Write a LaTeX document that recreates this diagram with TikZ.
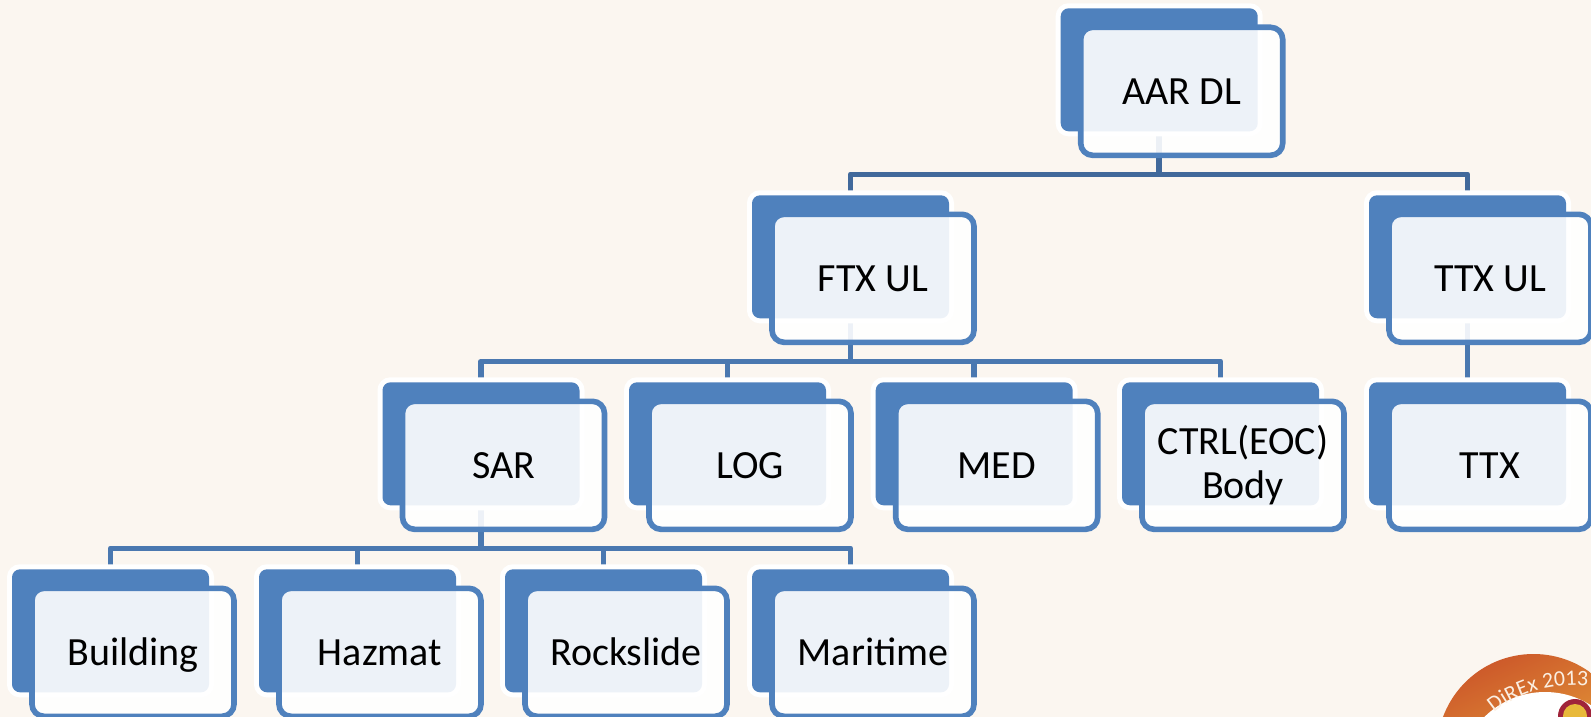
\documentclass[tikz,border=0pt]{standalone}
\usepackage{fontspec}
\setmainfont{Carlito}
\usetikzlibrary{decorations.text}
\pgfdeclarelayer{under}
\pgfsetlayers{under,main}
\definecolor{pagebg}{HTML}{FBF6F0}
\definecolor{cardblue}{HTML}{4F81BD}
\definecolor{busdark}{HTML}{41699B}
\definecolor{busmid}{HTML}{4A78B0}
\definecolor{ringtop}{HTML}{C94F28}
\definecolor{ringlow}{HTML}{DB8233}
\definecolor{sealred}{HTML}{A0243A}
\definecolor{sealgold}{HTML}{E8B93A}
\definecolor{ringtext}{HTML}{FBEFE2}
\tikzset{
  x=1pt,y=-1pt,
  backcard/.style={anchor=north west,minimum width=197pt,minimum height=123pt,inner sep=0pt,outer sep=0pt,
    rounded corners=8pt,fill=cardblue,preaction={draw=white,line width=10pt}},
  frontcard/.style={anchor=north west,minimum width=202pt,minimum height=128pt,inner sep=0pt,outer sep=0pt,
    rounded corners=12pt,draw=cardblue,line width=5.6pt,fill=white,fill opacity=.9,text opacity=1,draw opacity=1,
    align=center,font=\fontsize{40}{44}\selectfont,text=black},
  bus/.style={draw=busmid,line width=5.6pt,line join=round},
  busd/.style={draw=busdark,line width=5.6pt,line join=round}
}
\newcommand{\card}[4]{%
  \node[backcard] (#1) at (#2,#3) {};
  \node[frontcard] (#1f) at (#2+20,#3+19) {#4};
}
\newcommand{\oneline}[1]{\raisebox{0pt}[26pt][0pt]{#1}}
\begin{document}
\begin{tikzpicture}
\useasboundingbox (0,0) rectangle (1591,717);
\begin{pgfonlayer}{under}
\fill[pagebg] (0,0) rectangle (1591,717);
\end{pgfonlayer}
% emblem
\begin{scope}
\clip (0,0) rectangle (1591,717);
\begin{scope}
\clip (1533.5,750.5) circle (96.5);
\shade[top color=ringtop,bottom color=ringlow,shading angle=25] (1430,650) rectangle (1591,717);
\fill[white] (1545,778) circle (86);
\end{scope}
\fill[sealred] (1575,716) circle (17);
\fill[sealgold] (1575,716) circle (12);
\path[decorate,decoration={text along path,text align={left},
   text={|\fontsize{22}{22}\selectfont\color{ringtext}|DiREx 2013}}]
   (1494,713) .. controls (1515,695) and (1545,683) .. (1591,686);
\end{scope}
% cards
\card{aar}{1060.7}{8.3}{\oneline{AAR DL}}
\card{ftx}{752}{195.3}{\oneline{FTX UL}}
\card{ttxul}{1369}{195.3}{\oneline{TTX UL}}
\card{sar}{382.5}{382.3}{\oneline{SAR}}
\card{log}{629}{382.3}{\oneline{LOG}}
\card{med}{875.7}{382.3}{\oneline{MED}}
\card{ctrl}{1122}{382.3}{CTRL(EOC)\\Body}
\card{ttx}{1369}{382.3}{\oneline{TTX}}
\card{bld}{12}{569.3}{\oneline{Building}}
\card{haz}{259}{569.3}{\oneline{Hazmat}}
\card{roc}{505}{569.3}{\oneline{Rockslide}}
\card{mar}{752}{569.3}{\oneline{Maritime}}
% connectors
\begin{pgfonlayer}{under}
\draw[busd] (aar.south) -- ++(0,43) -| (ftx.north);
\draw[busd] (aar.south) -- ++(0,43) -| (ttxul.north);
\draw[bus] (ttxul.south) -- (ttx.north);
\foreach \c in {sar,log,med,ctrl} \draw[bus] (ftx.south) -- ++(0,43) -| (\c.north);
\foreach \c in {bld,haz,roc,mar} \draw[bus] (sar.south) -- ++(0,43) -| (\c.north);
\end{pgfonlayer}
\end{tikzpicture}
\end{document}
